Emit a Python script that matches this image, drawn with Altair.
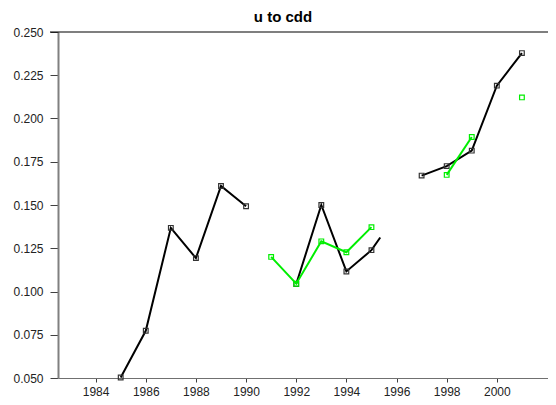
import altair as alt
import pandas as pd

# ---- data ----
black_years = [1985, 1986, 1987, 1988, 1989, 1990, 1992, 1993, 1994, 1995, 1997, 1998, 1999, 2000, 2001]
black_vals = [0.0503, 0.0773, 0.1368, 0.1193, 0.1610, 0.1493, 0.1043, 0.1500, 0.1116, 0.1239,
              0.1670, 0.1725, 0.1814, 0.2190, 0.2378]
black_seg = [1, 1, 1, 1, 1, 1, 2, 2, 2, 2, 3, 3, 3, 3, 3]
# short trailing line piece after 1995 (no marker)
black_tail_year = [1995.35]
black_tail_val = [0.1312]
black_tail_seg = [2]

green_years = [1991, 1992, 1993, 1994, 1995, 1998, 1999, 2001]
green_vals = [0.1200, 0.1045, 0.1290, 0.1227, 0.1372, 0.1674, 0.1893, 0.2122]
green_seg = [1, 1, 1, 1, 1, 2, 2, 3]

x_ticks = list(range(1984, 2002))
y_ticks = [0.05, 0.075, 0.1, 0.125, 0.15, 0.175, 0.2, 0.225, 0.25]
title_text = "u to cdd"

BLACK = "#000000"
GREEN = "#00ee00"
FONT = "Liberation Sans"

black_df = pd.DataFrame({"year": black_years, "val": black_vals, "seg": black_seg})
black_line_df = pd.concat([
    black_df,
    pd.DataFrame({"year": black_tail_year, "val": black_tail_val, "seg": black_tail_seg}),
]).sort_values(["seg", "year"])
green_df = pd.DataFrame({"year": green_years, "val": green_vals, "seg": green_seg})

W, H = 490, 346

xs = alt.Scale(domain=[1982.5, 2002.04], nice=False, zero=False)
ys = alt.Scale(domain=[0.05, 0.25], nice=False, zero=False)

x_axis = alt.Axis(values=x_ticks, labelExpr="datum.value % 2 == 0 ? datum.value : ''",
                  tickSize=4, labelPadding=4, grid=False, title=None,
                  domainColor="#707070", tickColor="#404040", labelFontSize=12,
                  labelColor="#222222", labelFont=FONT, labelFlush=False)
y_axis = alt.Axis(values=y_ticks, format=".3f", tickSize=8, labelPadding=7, grid=False,
                  title=None, domainColor="#808080", domainWidth=2, tickColor="#404040",
                  labelFontSize=12, labelColor="#222222", labelFont=FONT)

top_rule = alt.Chart(pd.DataFrame({"v": [0.25]})).mark_rule(color="#000000", strokeWidth=1.2).encode(
    y=alt.Y("v:Q", scale=ys), x=alt.value(-8), x2=alt.value(W))

black_line = alt.Chart(black_line_df).mark_line(color=BLACK, strokeWidth=2).encode(
    x=alt.X("year:Q", scale=xs, axis=x_axis),
    y=alt.Y("val:Q", scale=ys, axis=y_axis),
    detail="seg:N",
    order="year:Q",
)
black_pts = alt.Chart(black_df).mark_point(shape="square", filled=False, color="#333333",
                                           size=22, strokeWidth=1.2, opacity=1).encode(
    x=alt.X("year:Q", scale=xs), y=alt.Y("val:Q", scale=ys))

green_line = alt.Chart(green_df).mark_line(color=GREEN, strokeWidth=2).encode(
    x=alt.X("year:Q", scale=xs),
    y=alt.Y("val:Q", scale=ys),
    detail="seg:N",
    order="year:Q",
)
green_pts = alt.Chart(green_df).mark_point(shape="square", filled=False, color=GREEN,
                                           size=22, strokeWidth=1.2, opacity=1).encode(
    x=alt.X("year:Q", scale=xs), y=alt.Y("val:Q", scale=ys))

chart = alt.layer(top_rule, black_line, black_pts, green_line, green_pts).properties(
    width=W, height=H,
    title=alt.TitleParams(title_text, fontSize=15, font=FONT, fontWeight="bold",
                          anchor="middle", dx=-20, offset=1, color="#000000"),
    autosize=alt.AutoSizeParams(type="none"),
    padding={"left": 50, "top": 24, "right": 0, "bottom": 19},
).configure_view(stroke=None)

chart.save("out.html", embed_options={"renderer": "svg", "actions": False})
